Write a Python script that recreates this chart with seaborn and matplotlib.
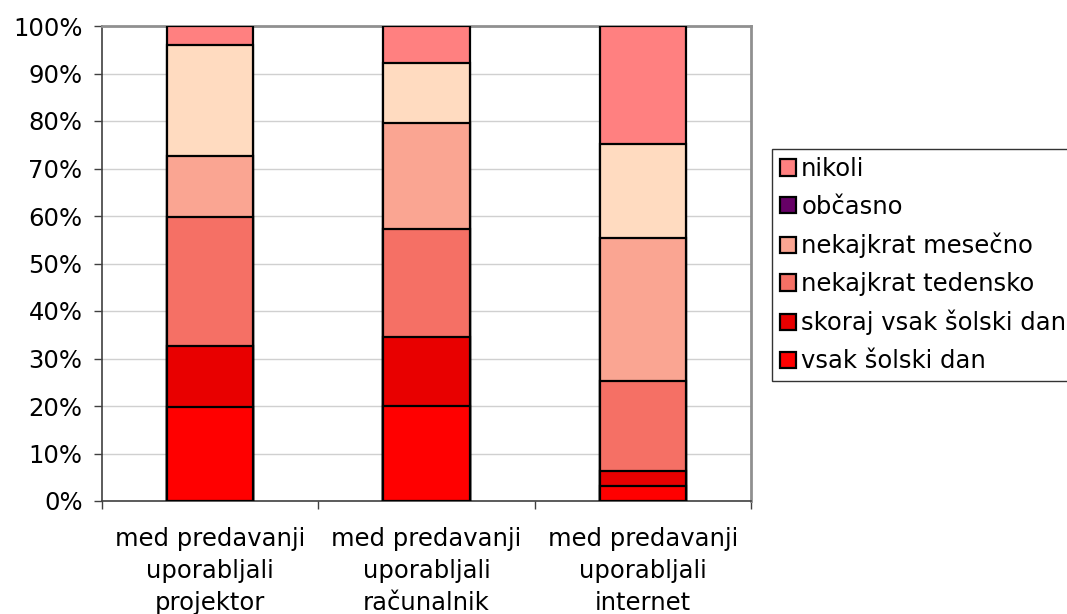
import numpy as np
import pandas as pd
import matplotlib
matplotlib.use('Agg')
import matplotlib.pyplot as plt
import seaborn as sns
from matplotlib.patches import Patch

# categories (x axis)
categories = ['med predavanji\nuporabljali\nprojektor',
              'med predavanji\nuporabljali\nračunalnik',
              'med predavanji\nuporabljali\ninternet']

# series, bottom to top, in %
vsak = [19.7, 20.1, 3.1]
skoraj = [12.9, 14.4, 3.15]
tedensko = [27.1, 22.8, 19.05]
mesecno = [13.0, 22.3, 30.1]
obcasno = [23.2, 12.6, 19.8]
nikoli = [4.1, 7.8, 24.8]

series_names = ['vsak šolski dan', 'skoraj vsak šolski dan', 'nekajkrat tedensko',
                'nekajkrat mesečno', 'občasno', 'nikoli']
bar_colors = ['#FF0000', '#E80000', '#F57065', '#FAA592', '#FFDBC0', '#FF8080']
legend_colors = ['#FF0000', '#E80000', '#F57065', '#FAA592', '#660066', '#FF8080']

df = pd.DataFrame([vsak, skoraj, tedensko, mesecno, obcasno, nikoli],
                  index=series_names, columns=categories).T
cum = df.cumsum(axis=1)

sns.set_style('white')
plt.rcParams['font.family'] = ['DejaVu Sans']
plt.rcParams['text.color'] = 'black'

fig = plt.figure(figsize=(10.67, 6.14), dpi=100)
ax = fig.add_axes([102 / 1067, 1 - 501 / 614, (751 - 102) / 1067, 475 / 614])

# draw cumulative layers from the top down
for name, color in reversed(list(zip(series_names, bar_colors))):
    sns.barplot(x=cum.index, y=cum[name].values, color=color, width=0.4,
                edgecolor='black', linewidth=1.6, saturation=1, ax=ax, zorder=3)

ax.set_ylim(0, 100)
ax.set_xlim(-0.5, 2.5)
ax.set_yticks(np.arange(0, 101, 10))
ax.set_yticklabels([f'{v}%' for v in range(0, 101, 10)])
ax.yaxis.grid(True, color='#d0d0d0', linewidth=1, zorder=0)
ax.set_axisbelow(True)
ax.set_xlabel('')
ax.set_ylabel('')

ax.tick_params(axis='y', left=True, length=6, width=1, color='#404040',
               pad=8, labelsize=17.5, labelcolor='black')
ax.tick_params(axis='x', bottom=True, length=0, pad=19, labelsize=17.5,
               labelcolor='black')
ax.set_xticks([-0.5, 0.5, 1.5, 2.5], minor=True)
ax.tick_params(axis='x', which='minor', bottom=True, length=6, width=1,
               color='#404040')
for lbl in ax.get_xticklabels():
    lbl.set_linespacing(1.42)
    lbl.set_verticalalignment('top')

for side in ['left', 'bottom']:
    ax.spines[side].set_color('#404040')
    ax.spines[side].set_linewidth(1.2)
for side in ['top', 'right']:
    ax.spines[side].set_color('#909090')
    ax.spines[side].set_linewidth(2)

handles = [Patch(facecolor=c, edgecolor='black', linewidth=1.6)
           for c in legend_colors]
leg_order = [5, 4, 3, 2, 1, 0]
fig.legend([handles[i] for i in leg_order], [series_names[i] for i in leg_order],
           loc='upper left', bbox_to_anchor=(772 / 1067, 1 - 149 / 614),
           borderaxespad=0, fontsize=17.5, frameon=True, fancybox=False,
           edgecolor='black', handlelength=0.65, handleheight=0.65,
           handletextpad=0.22, labelspacing=0.57, borderpad=0.33)
fig.legends[0].get_frame().set_linewidth(1)

plt.savefig('out.png', dpi=100)
